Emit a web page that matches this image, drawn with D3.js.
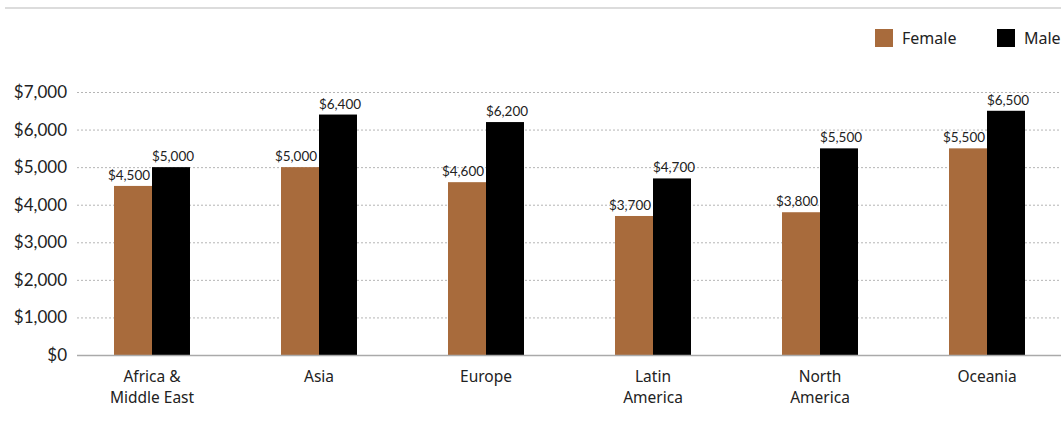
<!DOCTYPE html>
<html><head><meta charset="utf-8">
<script src="https://cdn.jsdelivr.net/npm/d3@7/dist/d3.min.js"></script>
<style>body{margin:0;background:#fff;} svg{display:block;}</style>
</head><body>
<svg id="c" width="1061" height="421"></svg>
<script>
const categories = [["Africa &","Middle East"],["Asia"],["Europe"],["Latin","America"],["North","America"],["Oceania"]];
const catKeys = ["Africa & Middle East","Asia","Europe","Latin America","North America","Oceania"];
const series = ["Female","Male"];
const female = [4500,5000,4600,3700,3800,5500];
const male = [5000,6400,6200,4700,5500,6500];
const yTicks = [0,1000,2000,3000,4000,5000,6000,7000];
const colors = ["#A86B3C","#000000"];

const svg = d3.select("#c");
const y = d3.scaleLinear().domain([0,7000]).range([355,92]);
const x = d3.scaleBand().domain(catKeys).range([68.5,1070.5]).paddingInner(0.545).paddingOuter(0.2725);
const xs = d3.scaleBand().domain(series).range([0,x.bandwidth()]);
const fmt = v => "$" + d3.format(",")(v);

svg.append("line").attr("x1",5).attr("x2",1061).attr("y1",8).attr("y2",8).attr("stroke","#dcdcdc").attr("stroke-width",2);

// grid
svg.append("g").selectAll("line").data(yTicks.filter(d=>d>0)).join("line")
  .attr("x1",77).attr("x2",1061).attr("y1",d=>y(d)+0.5).attr("y2",d=>y(d)+0.5)
  .attr("stroke","#b5b5b5").attr("stroke-dasharray","2,2");

// y labels
const yAxis = d3.axisLeft(y).tickValues(yTicks).tickFormat(fmt).tickSize(0).tickPadding(0);
const ya = svg.append("g").attr("transform","translate(67,0)").call(yAxis);
ya.select(".domain").remove();
ya.selectAll("text").attr("font-family","Lato, 'Open Sans', sans-serif").attr("font-size",17).attr("fill","#222");

// bars
const data = catKeys.map((c,i)=>({c, vals:[{s:"Female",v:female[i]},{s:"Male",v:male[i]}]}));
const g = svg.append("g").selectAll("g").data(data).join("g").attr("transform",d=>`translate(${x(d.c)},0)`);
g.selectAll("rect").data(d=>d.vals).join("rect")
  .attr("x",d=>xs(d.s)).attr("width",xs.bandwidth())
  .attr("y",d=>y(d.v)).attr("height",d=>y(0)-y(d.v))
  .attr("fill",(d,i)=>colors[i]);
g.selectAll("text").data(d=>d.vals).join("text")
  .attr("x",(d,i)=>xs(d.s)+xs.bandwidth()/2+(i===0?-4:2)).attr("y",d=>y(d.v)-6)
  .attr("text-anchor","middle").attr("font-family","Lato, 'Open Sans', sans-serif").attr("font-size",13.5).attr("fill","#222")
  .text(d=>fmt(d.v));

// baseline
svg.append("line").attr("x1",77).attr("x2",1061).attr("y1",y(0)+0.5).attr("y2",y(0)+0.5).attr("stroke","#aaa").attr("stroke-width",1.5);

// x labels
const xl = svg.append("g").selectAll("text").data(catKeys).join("text")
  .attr("text-anchor","middle").attr("font-family","'Noto Sans', sans-serif").attr("font-size",15.5).attr("fill","#222")
  .attr("transform",d=>`translate(${x(d)+x.bandwidth()/2},382)`);
xl.each(function(d,i){
  d3.select(this).selectAll("tspan").data(categories[i]).join("tspan")
    .attr("x",0).attr("dy",(t,j)=>j===0?0:21).text(t=>t);
});

// legend
const leg = [{s:"Female",x:875},{s:"Male",x:997}];
const lg = svg.append("g").selectAll("g").data(leg).join("g").attr("transform",d=>`translate(${d.x},29)`);
lg.append("rect").attr("width",18).attr("height",18).attr("fill",(d,i)=>colors[i]);
lg.append("text").attr("x",27).attr("y",15).attr("font-family","'Noto Sans', sans-serif").attr("font-size",16).attr("fill","#222").text(d=>d.s);
</script>
</body></html>
